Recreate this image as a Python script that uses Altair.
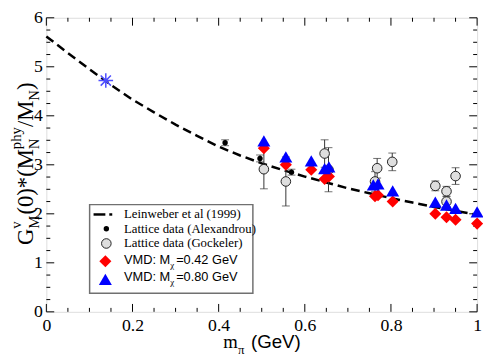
import altair as alt
import pandas as pd

# ---------------- data ----------------
CURVE_X = [0.0, 0.05, 0.1, 0.15, 0.2, 0.25, 0.3, 0.35, 0.4, 0.45, 0.5, 0.55, 0.6,
           0.65, 0.7, 0.75, 0.8, 0.85, 0.9, 0.95, 1.0]
CURVE_Y = [5.62, 5.28, 4.95, 4.63, 4.33, 4.07, 3.82, 3.59, 3.37, 3.19, 3.03, 2.89,
           2.76, 2.64, 2.52, 2.42, 2.32, 2.23, 2.14, 2.06, 1.98]

ALEX_X = [0.415, 0.496, 0.569]
ALEX_Y = [3.45, 3.13, 2.85]
ALEX_ERR = [0.06, 0.07, 0.06]

GOCK_X = [0.505, 0.556, 0.646, 0.655, 0.763, 0.768, 0.803, 0.903, 0.929, 0.929, 0.950]
GOCK_Y = [2.91, 2.66, 3.23, 2.90, 2.66, 2.93, 3.06, 2.57, 2.46, 2.25, 2.77]
GOCK_ERR = [0.40, 0.50, 0.28, 0.45, 0.20, 0.20, 0.18, 0.10, 0.10, 0.10, 0.17]

VMD42_X = [0.505, 0.556, 0.615, 0.646, 0.656, 0.763, 0.770, 0.804, 0.903, 0.929, 0.950, 1.0]
VMD42_Y = [3.34, 3.00, 2.90, 2.71, 2.76, 2.36, 2.38, 2.25, 2.00, 1.93, 1.88, 1.80]

VMD80_X = [0.505, 0.556, 0.615, 0.646, 0.656, 0.759, 0.770, 0.804, 0.903, 0.929, 0.950, 1.0]
VMD80_Y = [3.49, 3.16, 3.08, 2.92, 2.96, 2.59, 2.61, 2.47, 2.24, 2.18, 2.11, 2.04]

PHYS_X = [0.138]
PHYS_Y = [4.72]

X_MAJOR = [0.0, 0.2, 0.4, 0.6, 0.8, 1.0]
X_MINOR = [0.05, 0.1, 0.15, 0.25, 0.3, 0.35, 0.45, 0.5, 0.55, 0.65, 0.7, 0.75, 0.85, 0.9, 0.95]
Y_MAJOR = [0, 1, 2, 3, 4, 5, 6]
Y_MINOR = [v + q for v in range(6) for q in (0.25, 0.5, 0.75)]

# ---------------- layout ----------------
LEFT, TOP, BOTTOM = 47, 15, 314
W, H = 438, BOTTOM - TOP
PAGE_MARGIN = 8
SVG_BOTTOM = 358
SERIF = "Liberation Serif"
SANS = "Liberation Sans"

def px(x):  # page x -> plot-relative
    return x - LEFT

def py(y):  # page y -> plot-relative
    return y - TOP

xs = alt.Scale(domain=[0, 1], nice=False, zero=False)
ys = alt.Scale(domain=[0, 6], nice=False, zero=False)

XAXIS = alt.Axis(values=X_MAJOR, format="~g", title=None, grid=False, domain=False,
                 ticks=False, tickSize=0, labelFont=SERIF, labelFontSize=18,
                 labelColor="black", labelPadding=5, labelFlush=False,
                 labelOverlap=False)
YAXIS = alt.Axis(values=Y_MAJOR, format="d", title=None, grid=False, domain=False,
                 ticks=False, tickSize=0, labelFont=SERIF, labelFontSize=18,
                 labelColor="black", labelPadding=4, labelFlush=False,
                 labelOverlap=False)

curve_df = pd.DataFrame({"x": CURVE_X, "y": CURVE_Y})
alex_df = pd.DataFrame({"x": ALEX_X, "y": ALEX_Y, "err": ALEX_ERR})
alex_df["lo"] = alex_df.y - alex_df.err
alex_df["hi"] = alex_df.y + alex_df.err
gock_df = pd.DataFrame({"x": GOCK_X, "y": GOCK_Y, "err": GOCK_ERR})
gock_df["lo"] = gock_df.y - gock_df.err
gock_df["hi"] = gock_df.y + gock_df.err
v42_df = pd.DataFrame({"x": VMD42_X, "y": VMD42_Y})
v80_df = pd.DataFrame({"x": VMD80_X, "y": VMD80_Y})
phys_df = pd.DataFrame({"x": PHYS_X, "y": PHYS_Y})

def X(f="x"):
    return alt.X(f"{f}:Q", scale=xs, axis=XAXIS)

def Y(f="y"):
    return alt.Y(f"{f}:Q", scale=ys, axis=YAXIS)

curve = alt.Chart(curve_df).mark_line(
    strokeDash=[9, 5], strokeWidth=2.5, color="black", clip=False
).encode(x=X(), y=Y())

# inward ticks on all four sides
def xticks(vals, ln):
    d = pd.DataFrame({"x": vals})
    b = alt.Chart(d).mark_rule(color="black", strokeWidth=1).encode(
        x=X(), y=alt.value(H), y2=alt.value(H - ln))
    t = alt.Chart(d).mark_rule(color="black", strokeWidth=1).encode(
        x=X(), y=alt.value(0), y2=alt.value(ln))
    return b + t

def yticks(vals, ln):
    d = pd.DataFrame({"y": vals})
    l = alt.Chart(d).mark_rule(color="black", strokeWidth=1).encode(
        y=Y(), x=alt.value(0), x2=alt.value(ln))
    r = alt.Chart(d).mark_rule(color="black", strokeWidth=1).encode(
        y=Y(), x=alt.value(W), x2=alt.value(W - ln))
    return l + r

ticks = xticks(X_MAJOR, 8) + xticks(X_MINOR, 4) + yticks(Y_MAJOR, 8) + yticks(Y_MINOR, 4)

def errbars(df, color):
    bar = alt.Chart(df).mark_rule(color=color, strokeWidth=1, clip=False).encode(
        x=X(), y=Y("lo"), y2="hi:Q")
    cap_lo = alt.Chart(df).mark_tick(color=color, orient="horizontal", size=8,
                                     thickness=1, clip=False).encode(
        x=X(), y=Y("lo"))
    cap_hi = alt.Chart(df).mark_tick(color=color, orient="horizontal", size=8,
                                     thickness=1, clip=False).encode(
        x=X(), y=Y("hi"))
    return bar + cap_lo + cap_hi

alex_err = errbars(alex_df, "#333333")
gock_err = errbars(gock_df, "#333333")

GFILL = "#dedede"

alex_pts = alt.Chart(alex_df).mark_point(
    shape="circle", filled=True, color="black", size=30, opacity=1, clip=False
).encode(x=X(), y=Y())

gock_pts = alt.Chart(gock_df).mark_point(
    shape="circle", filled=True, fill=GFILL, stroke="#222222", strokeWidth=1,
    size=95, opacity=1, fillOpacity=1, clip=False
).encode(x=X(), y=Y())

v42_pts = alt.Chart(v42_df).mark_point(
    shape="diamond", filled=True, color="#ff0000", size=150, opacity=1, clip=False
).encode(x=X(), y=Y())

v80_pts = alt.Chart(v80_df).mark_point(
    shape="triangle-up", filled=True, color="#0000ff", size=175, opacity=1, clip=False
).encode(x=X(), y=Y())

ASTER = "M-1,0L1,0M0,-1L0,1M-0.7,-0.7L0.7,0.7M-0.7,0.7L0.7,-0.7"
phys_pt = alt.Chart(phys_df).mark_point(
    shape=ASTER, filled=False, color="#4d4dff", size=220, strokeWidth=1.5,
    opacity=1, clip=False
).encode(x=X(), y=Y())

ONE = alt.Data(values=[{"a": 1}])

def txt(s, x, y, size, font, angle=0, color="black"):
    """Text placed at page coordinates (x, y)."""
    kw = dict(text=s, font=font, fontSize=size, align="left",
              baseline="alphabetic", color=color)
    if angle:
        kw["angle"] = angle
    return alt.Chart(ONE).mark_text(**kw).encode(x=alt.value(px(x)), y=alt.value(py(y)))

# y-axis title (rotated, with sub/superscripts)
YT_MAIN, YT_SUB = 23, 15
tw = {"G": .722, "M": .889, "N": .722, "(": .333, ")": .333, "0": .5, "*": .5,
      "/": .278, "v": .5, "p": .5, "h": .5, "y": .5}
def wid(s, f):
    return sum(tw[c] for c in s) * f

xm, xsub, xsup = 33, 40, 21
yy = 246
layers_title = []
layers_title.append(txt("G", xm, yy, YT_MAIN, SERIF, 270)); yy -= wid("G", YT_MAIN)
layers_title.append(txt("M", xsub, yy, YT_SUB, SERIF, 270))
layers_title.append(txt("v", xsup, yy, YT_SUB, SERIF, 270)); yy -= wid("M", YT_SUB) + 1
layers_title.append(txt("(0)*(M", xm, yy, YT_MAIN, SERIF, 270)); yy -= wid("(0)*(M", YT_MAIN)
layers_title.append(txt("N", xsub, yy, YT_SUB, SERIF, 270))
layers_title.append(txt("phy", xsup, yy, YT_SUB, SERIF, 270)); yy -= wid("phy", YT_SUB)
layers_title.append(txt("/M", xm, yy, YT_MAIN, SERIF, 270)); yy -= wid("/M", YT_MAIN)
layers_title.append(txt("N", xsub, yy, YT_SUB, SERIF, 270)); yy -= wid("N", YT_SUB)
layers_title.append(txt(")", xm, yy, YT_MAIN, SERIF, 270))

# x-axis title
layers_title.append(txt("m", 227, 351, 19, SERIF))
layers_title.append(txt("π", 242, 357, 13, SERIF))
layers_title.append(txt("(GeV)", 255, 351, 19, SANS))

# legend (page coordinates)
def pv(x, y):
    return dict(x=alt.value(px(x)), y=alt.value(py(y)))

LEG = []
LEG.append(alt.Chart(ONE).mark_rect(fill="white", stroke="#707070", strokeWidth=1.5).encode(
    x=alt.value(px(91)), x2=alt.value(px(257)), y=alt.value(py(205)), y2=alt.value(py(295))))
LEG.append(alt.Chart(ONE).mark_rule(color="black", strokeWidth=2.5).encode(
    x=alt.value(px(95)), x2=alt.value(px(107)), y=alt.value(py(215))))
LEG.append(alt.Chart(ONE).mark_rule(color="black", strokeWidth=2.5).encode(
    x=alt.value(px(111)), x2=alt.value(px(114)), y=alt.value(py(215))))
LEG.append(alt.Chart(ONE).mark_point(shape="circle", filled=True, color="black",
                                      size=30, opacity=1).encode(**pv(108, 229.5)))
LEG.append(alt.Chart(ONE).mark_point(shape="circle", filled=True, fill=GFILL,
                                      stroke="#222222", strokeWidth=1, size=95,
                                      opacity=1).encode(**pv(108, 244.5)))
LEG.append(alt.Chart(ONE).mark_point(shape="diamond", filled=True, color="#ff0000",
                                      size=150, opacity=1).encode(**pv(107, 262.5)))
LEG.append(alt.Chart(ONE).mark_point(shape="triangle-up", filled=True, color="#0000ff",
                                      size=175, opacity=1).encode(**pv(107, 281)))
LX = 126
LEG.append(txt("Leinweber et al (1999)", LX, 218.5, 13, SERIF))
LEG.append(txt("Lattice data (Alexandrou)", LX, 233.5, 13, SERIF))
LEG.append(txt("Lattice data (Gockeler)", LX, 248.5, 13, SERIF))
LEG.append(txt("VMD: M", LX, 265.5, 13, SANS))
LEG.append(txt("χ", LX + 47, 269.5, 9, SERIF))
LEG.append(txt("=0.42 GeV", LX + 53, 265.5, 13, SANS))
LEG.append(txt("VMD: M", LX, 283, 13, SANS))
LEG.append(txt("χ", LX + 47, 287, 9, SERIF))
LEG.append(txt("=0.80 GeV", LX + 53, 283, 13, SANS))

chart = alt.layer(
    curve, ticks, alex_err, gock_err, gock_pts, alex_pts, v42_pts, v80_pts,
    phys_pt, *layers_title, *LEG
).properties(
    width=W, height=H,
    autosize=alt.AutoSizeParams(type="none"),
    padding={"left": LEFT - PAGE_MARGIN, "top": TOP - PAGE_MARGIN, "right": 6,
             "bottom": SVG_BOTTOM - BOTTOM},
).configure_view(
    stroke="black", strokeWidth=1.5
).configure(background="white")

chart.save("out.html", embed_options={"renderer": "svg", "actions": False})
